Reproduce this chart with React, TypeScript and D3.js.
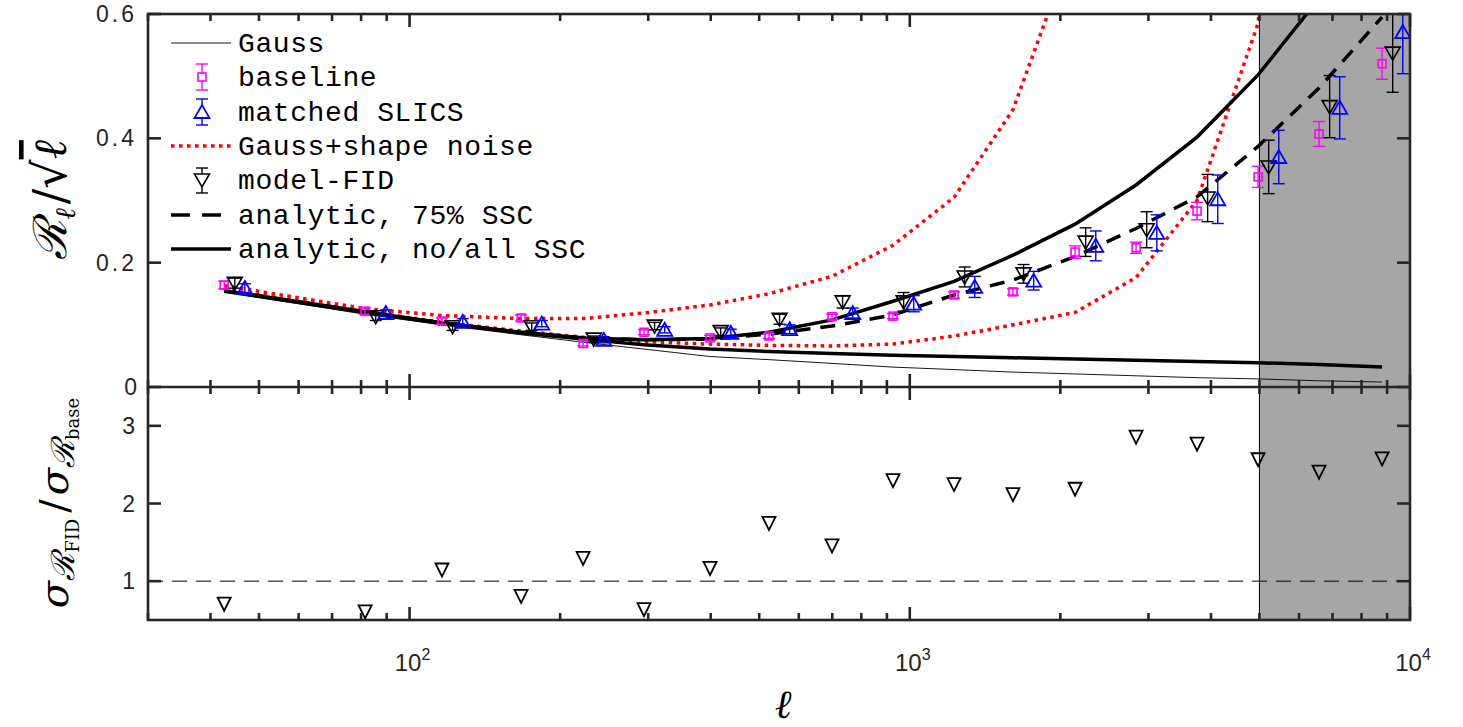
import React from 'react';
import * as d3 from 'd3';

// ---------- data ----------
const ELL = [42.6, 81.5, 116.1, 167.1, 222.3, 294.2, 398.8, 523.0, 699.1, 925.7, 1226, 1608, 2140, 2834, 3752, 4969, 6579, 8794];

const BASELINE = [0.164, 0.122, 0.106, 0.111, 0.070, 0.088, 0.079, 0.082, 0.113, 0.114, 0.148, 0.153, 0.217, 0.224, 0.283, 0.338, 0.407, 0.520];
const BASELINE_ERR = [0.006, 0.005, 0.005, 0.005, 0.004, 0.004, 0.004, 0.004, 0.004, 0.004, 0.005, 0.005, 0.010, 0.009, 0.014, 0.017, 0.020, 0.025];

const SLICS = [0.159, 0.119, 0.105, 0.102, 0.076, 0.092, 0.087, 0.093, 0.119, 0.134, 0.161, 0.171, 0.227, 0.248, 0.302, 0.370, 0.449, 0.571];
const SLICS_ERR = [0.007, 0.005, 0.005, 0.005, 0.005, 0.005, 0.006, 0.007, 0.008, 0.013, 0.017, 0.015, 0.024, 0.029, 0.039, 0.043, 0.050, 0.067];

const FID = [0.167, 0.113, 0.097, 0.097, 0.077, 0.098, 0.089, 0.109, 0.137, 0.137, 0.177, 0.182, 0.233, 0.253, 0.304, 0.354, 0.451, 0.537];
const FID_ERR = [0.008, 0.006, 0.006, 0.006, 0.005, 0.006, 0.006, 0.008, 0.010, 0.015, 0.016, 0.015, 0.023, 0.029, 0.038, 0.043, 0.050, 0.063];

const RATIO = [0.71, 0.61, 1.15, 0.81, 1.30, 0.64, 1.17, 1.75, 1.46, 2.30, 2.25, 2.12, 2.19, 2.86, 2.77, 2.57, 2.41, 2.58];

const GAUSS = [0.153, 0.117, 0.100, 0.084, 0.072, 0.061, 0.049, 0.044, 0.038, 0.032, 0.028, 0.024, 0.021, 0.018, 0.015, 0.013, 0.010, 0.008];
const NO_SSC = [0.154, 0.120, 0.102, 0.087, 0.077, 0.068, 0.061, 0.057, 0.054, 0.051, 0.049, 0.047, 0.045, 0.043, 0.041, 0.039, 0.036, 0.032];
const ALL_SSC = [0.155, 0.121, 0.103, 0.088, 0.079, 0.076, 0.078, 0.088, 0.108, 0.138, 0.170, 0.212, 0.262, 0.325, 0.402, 0.502, 0.625, 0.780];
const SSC75 = [0.155, 0.121, 0.103, 0.088, 0.079, 0.076, 0.077, 0.085, 0.098, 0.116, 0.148, 0.172, 0.210, 0.255, 0.306, 0.387, 0.481, 0.595];
const RED_UPPER: (number | null)[] = [0.163, 0.126, 0.115, 0.110, 0.110, 0.119, 0.132, 0.150, 0.178, 0.228, 0.305, 0.446, 0.720, null, null, null, null, null];
const RED_LOWER: (number | null)[] = [0.157, 0.122, 0.104, 0.090, 0.080, 0.073, 0.069, 0.067, 0.066, 0.069, 0.082, 0.100, 0.120, 0.176, 0.300, 0.585, 1.600, null];

const MASK_RANGE = [5000, 10000];
const Y_TICKS_TOP = [0, 0.2, 0.4, 0.6];
const Y_LABELS_TOP = ['0', '0.2', '0.4', '0.6'];
const Y_TICKS_BOT = [1, 2, 3];
const X_LABELS = [{ v: 100, exp: '2' }, { v: 1000, exp: '3' }, { v: 10000, exp: '4' }];
const LEGEND = ['Gauss', 'baseline', 'matched SLICS', 'Gauss+shape noise', 'model-FID', 'analytic, 75% SSC', 'analytic, no/all SSC'];
const FID_SHIFT = 1.05;
const SLICS_SHIFT = 1.1;

export default function App() {
  const L = 148, R = 1410, T = 14, M = 387, B = 620;
  const x = d3.scaleLog().domain([30, 10000]).range([L, R]);
  const yT = d3.scaleLinear().domain([0, 0.6]).range([M, T]);
  const yB = d3.scaleLinear().domain([0.5, 3.5]).range([B, M]);
  const axisCol = '#262626';

  const mkLine = (vals: (number | null)[]) =>
    d3.line<[number, number | null]>()
      .defined((d) => d[1] != null)
      .x((d) => x(d[0]))
      .y((d) => yT(d[1] as number))(ELL.map((l, i) => [l, vals[i]] as [number, number | null])) || '';

  const xticks = x.ticks();
  const isMajor = (v: number) => Math.abs(Math.log10(v) - Math.round(Math.log10(v))) < 1e-6;

  const downTri = (cx: number, cy: number, s = 7.5) => `M${cx - s},${cy - 6}L${cx + s},${cy - 6}L${cx},${cy + 7}Z`;
  const upTri = (cx: number, cy: number, s = 7.5) => `M${cx - s},${cy + 6}L${cx + s},${cy + 6}L${cx},${cy - 7}Z`;

  const errBar = (px: number, lo: number, hi: number, color: string, key: string, w = 1.4) => (
    <g key={key} stroke={color} strokeWidth={w} fill="none">
      <line x1={px} x2={px} y1={lo} y2={hi} />
      <line x1={px - 6} x2={px + 6} y1={lo} y2={lo} />
      <line x1={px - 6} x2={px + 6} y1={hi} y2={hi} />
    </g>
  );

  const legY = [43, 77, 112, 146, 180, 215, 249];
  const lx0 = 171, lx1 = 231, lmx = 202, ltx = 238;

  return (
    <svg width={1463} height={727} style={{ position: 'absolute', left: 0, top: 0, background: '#fff' }}>
      <defs>
        <clipPath id="clipTop"><rect x={L} y={T} width={R - L} height={M - T} /></clipPath>
        <clipPath id="clipBot"><rect x={L} y={M} width={R - L} height={B - M} /></clipPath>
      </defs>
      <rect x={0} y={0} width={1463} height={727} fill="#fff" />
      {/* shaded region */}
      <rect x={x(MASK_RANGE[0])} y={T} width={x(MASK_RANGE[1]) - x(MASK_RANGE[0])} height={B - T} fill="#a6a6a6" />
      <line x1={x(MASK_RANGE[0])} x2={x(MASK_RANGE[0])} y1={T} y2={B} stroke="#000" strokeWidth={1} />

      {/* top panel curves */}
      <g clipPath="url(#clipTop)" fill="none">
        <path d={mkLine(GAUSS)} stroke="#000" strokeWidth={0.9} />
        <path d={mkLine(RED_UPPER)} stroke="#ff0000" strokeWidth={3.5} strokeDasharray="3.5,4.5" />
        <path d={mkLine(RED_LOWER)} stroke="#ff0000" strokeWidth={3.5} strokeDasharray="3.5,4.5" />
        <path d={mkLine(NO_SSC)} stroke="#000" strokeWidth={3.5} />
        <path d={mkLine(ALL_SSC)} stroke="#000" strokeWidth={3.5} />
        <path d={mkLine(SSC75)} stroke="#000" strokeWidth={3.5} strokeDasharray="15,10" />
      </g>

      {/* top panel markers */}
      <g clipPath="url(#clipTop)">
        {ELL.map((l, i) => {
          const px = x(l);
          return (
            <g key={'b' + i}>
              {errBar(px, yT(BASELINE[i] - BASELINE_ERR[i]), yT(BASELINE[i] + BASELINE_ERR[i]), '#ff00ff', 'be' + i)}
              <rect x={px - 4} y={yT(BASELINE[i]) - 4} width={8} height={8} fill="none" stroke="#ff00ff" strokeWidth={1.6} />
            </g>
          );
        })}
        {ELL.map((l, i) => {
          const px = x(l * FID_SHIFT);
          return (
            <g key={'f' + i}>
              {errBar(px, yT(FID[i] - FID_ERR[i]), yT(FID[i] + FID_ERR[i]), '#000', 'fe' + i)}
              <path d={downTri(px, yT(FID[i]))} fill="none" stroke="#000" strokeWidth={1.6} />
            </g>
          );
        })}
        {ELL.map((l, i) => {
          const px = x(l * SLICS_SHIFT);
          return (
            <g key={'s' + i}>
              {errBar(px, yT(SLICS[i] - SLICS_ERR[i]), yT(SLICS[i] + SLICS_ERR[i]), '#0000ff', 'se' + i)}
              <path d={upTri(px, yT(SLICS[i]))} fill="none" stroke="#0000ff" strokeWidth={1.8} />
            </g>
          );
        })}
      </g>

      {/* bottom panel */}
      <g clipPath="url(#clipBot)">
        <line x1={L} x2={R} y1={yB(1)} y2={yB(1)} stroke="#000" strokeWidth={1} strokeDasharray="15,9" />
        {ELL.map((l, i) => (
          <path key={'r' + i} d={downTri(x(l), yB(RATIO[i]), 6.5)} fill="none" stroke="#000" strokeWidth={1.8} />
        ))}
      </g>

      {/* legend */}
      <g fontFamily="'Liberation Mono', 'DejaVu Sans Mono', monospace" fontSize={28} letterSpacing={0.6} fill="#000">
        <line x1={lx0} x2={lx1} y1={legY[0]} y2={legY[0]} stroke="#000" strokeWidth={0.9} />
        {errBar(lmx, legY[1] - 13, legY[1] + 13, '#ff00ff', 'lb')}
        <rect x={lmx - 4} y={legY[1] - 4} width={8} height={8} fill="#fff" stroke="#ff00ff" strokeWidth={1.6} />
        {errBar(lmx, legY[2] - 13, legY[2] + 13, '#0000ff', 'ls')}
        <path d={upTri(lmx, legY[2])} fill="#fff" stroke="#0000ff" strokeWidth={1.8} />
        <line x1={lx0} x2={lx1} y1={legY[3]} y2={legY[3]} stroke="#ff0000" strokeWidth={3.5} strokeDasharray="3.5,4.5" />
        {errBar(lmx, legY[4] - 12, legY[4] + 13, '#000', 'lf')}
        <path d={downTri(lmx, legY[4])} fill="#fff" stroke="#000" strokeWidth={1.6} />
        <line x1={lx0} x2={lx1} y1={legY[5]} y2={legY[5]} stroke="#000" strokeWidth={3.5} strokeDasharray="19,12" />
        <line x1={lx0} x2={lx1} y1={legY[6]} y2={legY[6]} stroke="#000" strokeWidth={3.5} />
        {LEGEND.map((t, i) => (
          <text key={t} x={ltx} y={legY[i] + 9}>{t}</text>
        ))}
      </g>

      {/* axes */}
      <g stroke={axisCol} fill="none" strokeWidth={2.6}>
        <rect x={L} y={T} width={R - L} height={B - T} />
        <line x1={L} x2={R} y1={M} y2={M} />
      </g>
      <g stroke={axisCol} strokeWidth={2.6}>
        {xticks.map((v, i) => {
          const px = x(v);
          const len = isMajor(v) ? 13 : 7;
          return (
            <g key={'xt' + i}>
              <line x1={px} x2={px} y1={T} y2={T + len} />
              <line x1={px} x2={px} y1={M} y2={M - len} />
              <line x1={px} x2={px} y1={M} y2={M + len} />
              <line x1={px} x2={px} y1={B} y2={B - len} />
            </g>
          );
        })}
        {Y_TICKS_TOP.map((v) => (
          <g key={'yt' + v}>
            <line x1={L} x2={L + 13} y1={yT(v)} y2={yT(v)} />
            <line x1={R} x2={R - 13} y1={yT(v)} y2={yT(v)} />
          </g>
        ))}
        {Y_TICKS_BOT.map((v) => (
          <g key={'yb' + v}>
            <line x1={L} x2={L + 13} y1={yB(v)} y2={yB(v)} />
            <line x1={R} x2={R - 13} y1={yB(v)} y2={yB(v)} />
          </g>
        ))}
      </g>

      {/* tick labels */}
      <g fontFamily="'Liberation Sans', Arial, sans-serif" fontSize={23} fill="#262626">
        {Y_TICKS_TOP.map((v, i) => (
          <text key={'ytl' + v} x={137} y={yT(v) + 8} textAnchor="end" letterSpacing={i === 0 ? 0 : 3}>{Y_LABELS_TOP[i]}</text>
        ))}
        {Y_TICKS_BOT.map((v) => (
          <text key={'ybl' + v} x={135} y={yB(v) + 8} textAnchor="end">{v}</text>
        ))}
        {X_LABELS.map((d) => (
          <text key={'xl' + d.v} x={x(d.v) + 3} y={671} textAnchor="middle" fontSize={24}>
            10<tspan fontSize={16} dy={-11}>{d.exp}</tspan>
          </text>
        ))}
      </g>

      {/* axis titles */}
      <text x={783} y={718} textAnchor="middle" fontFamily="'DejaVu Serif', serif" fontStyle="italic" fontSize={40} fill="#000">ℓ</text>
      <text transform="translate(66,200) rotate(-90)" textAnchor="middle" fontFamily="'DejaVu Serif', serif" fontSize={46} fill="#000">
        <tspan fontStyle="italic">ℛ</tspan>
        <tspan fontStyle="italic" fontSize={28} dy={9}>ℓ</tspan>
        <tspan dy={-9} dx={4}>/</tspan>
        <tspan>√</tspan>
        <tspan fontStyle="italic" textDecoration="overline">ℓ</tspan>
      </text>
      <text transform="translate(68,503) rotate(-90)" textAnchor="middle" fontFamily="'DejaVu Serif', serif" fontSize={40} fill="#000">
        <tspan fontStyle="italic">σ</tspan>
        <tspan fontStyle="italic" fontSize={32} dy={6}>ℛ</tspan>
        <tspan fontSize={18} dy={5}>FID</tspan>
        <tspan dy={-11} dx={6}>/</tspan>
        <tspan fontStyle="italic" dx={4}>σ</tspan>
        <tspan fontStyle="italic" fontSize={32} dy={6}>ℛ</tspan>
        <tspan fontSize={18} dy={5}>base</tspan>
      </text>
    </svg>
  );
}
